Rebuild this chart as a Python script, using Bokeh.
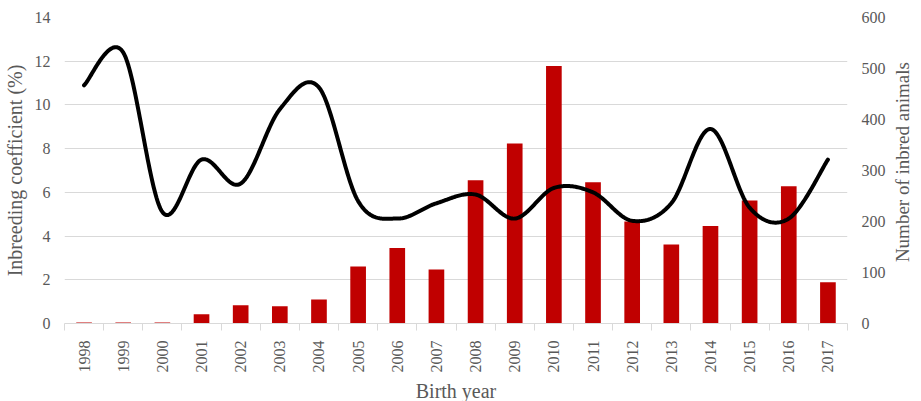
import math
from bokeh.plotting import figure
from bokeh.layouts import row
from bokeh.models import Range1d, LinearAxis, FixedTicker, ColumnDataSource
from bokeh.core.properties import value
from bokeh.embed import file_html
from bokeh.resources import INLINE

years = [str(y) for y in range(1998, 2018)]
inbred_animals = [2, 2, 2, 18, 36, 34, 47, 112, 148, 106, 281, 353, 505, 277, 200, 155, 191, 241, 269, 81]
inbreeding_coef = [10.9, 12.4, 5.1, 7.5, 6.4, 9.8, 10.8, 5.6, 4.8, 5.5, 5.9, 4.8, 6.2, 6.0, 4.7, 5.5, 8.9, 5.3, 4.8, 7.5]
left_ticks = [0, 2, 4, 6, 8, 10, 12, 14]
right_ticks = [0, 100, 200, 300, 400, 500, 600]

FONT = "Liberation Serif"
GREY = "#595959"
GRID = "#d9d9d9"

TOP, FRAME_H, BOTTOM = 17, 306, 68
TOTAL_H = TOP + FRAME_H + BOTTOM

xs = list(range(len(years)))


def smooth(xv, yv, n=40):
    """Catmull-Rom style smoothing (as in spreadsheet 'smoothed line')."""
    ox, oy = [], []
    m = len(xv)
    for i in range(m - 1):
        i0 = max(i - 1, 0)
        i3 = min(i + 2, m - 1)
        p0x, p1x, p2x, p3x = xv[i0], xv[i], xv[i + 1], xv[i3]
        p0y, p1y, p2y, p3y = yv[i0], yv[i], yv[i + 1], yv[i3]
        c1x = p1x + (p2x - p0x) / 6.0
        c1y = p1y + (p2y - p0y) / 6.0
        c2x = p2x - (p3x - p1x) / 6.0
        c2y = p2y - (p3y - p1y) / 6.0
        for k in range(n + (1 if i == m - 2 else 0)):
            t = k / n
            a = (1 - t) ** 3
            b = 3 * (1 - t) ** 2 * t
            c = 3 * (1 - t) * t ** 2
            d = t ** 3
            ox.append(a * p1x + b * c1x + c * c2x + d * p2x)
            oy.append(a * p1y + b * c1y + c * c2y + d * p2y)
    return ox, oy


p = figure(
    frame_width=783, frame_height=FRAME_H,
    x_range=Range1d(-0.5, len(years) - 0.5),
    y_range=Range1d(0, 14),
    output_backend="svg", toolbar_location=None,
    min_border_left=57, min_border_right=45, min_border_top=TOP, min_border_bottom=BOTTOM,
)
p.outline_line_color = None
p.extra_y_ranges = {"n": Range1d(0, 600)}

bar_src = ColumnDataSource(dict(x=xs, top=inbred_animals))
p.vbar(x="x", top="top", width=0.4, bottom=0, source=bar_src,
       fill_color="#C00000", line_color=None, y_range_name="n")

lx, ly = smooth(xs, inbreeding_coef)
p.line(lx, ly, line_color="black", line_width=4, line_join="round", line_cap="round")

# x axis
xt = FixedTicker(ticks=xs, minor_ticks=[i - 0.5 for i in range(len(years) + 1)])
xa = p.xaxis[0]
xa.ticker = xt
xa.major_label_overrides = {i: y for i, y in zip(xs, years)}
xa.major_label_orientation = math.pi / 2
xa.major_tick_out = 0
xa.major_tick_in = 0
xa.minor_tick_out = 7
xa.minor_tick_in = 0
xa.minor_tick_line_color = GRID
xa.axis_line_color = GRID
xa.major_label_standoff = 10
xa.major_label_text_font = FONT
xa.major_label_text_font_size = "16px"
xa.major_label_text_color = GREY
xa.axis_label = "Birth year"
xa.axis_label_text_font = FONT
xa.axis_label_text_font_size = "20px"
xa.axis_label_text_font_style = "normal"
xa.axis_label_text_color = GREY
xa.axis_label_standoff = 4

# left axis
ya = p.yaxis[0]
ya.ticker = FixedTicker(ticks=left_ticks)
ya.axis_label = "Inbreeding coefficient (%)"
ya.axis_label_text_font = FONT
ya.axis_label_text_font_size = "20px"
ya.axis_label_text_font_style = "normal"
ya.axis_label_text_color = GREY
ya.axis_label_standoff = 6

# right axis (ticks only; its title is drawn in a narrow side panel)
ra = LinearAxis(y_range_name="n", ticker=FixedTicker(ticks=right_ticks))
p.add_layout(ra, "right")

for ax in (ya, ra):
    ax.axis_line_color = None
    ax.major_tick_line_color = None
    ax.minor_tick_line_color = None
    ax.major_tick_out = 0
    ax.major_tick_in = 0
    ax.major_label_standoff = 14
    ax.major_label_text_font = FONT
    ax.major_label_text_font_size = "16px"
    ax.major_label_text_color = GREY

p.xgrid.grid_line_color = None
p.ygrid.ticker = FixedTicker(ticks=left_ticks)
p.ygrid.grid_line_color = GRID
p.ygrid.grid_line_width = 1

# side panel holding the right-axis title, reading bottom to top
side = figure(
    width=20, height=TOTAL_H,
    x_range=Range1d(0, 1), y_range=Range1d(0, TOTAL_H),
    x_axis_type=None, y_axis_type=None,
    output_backend="svg", toolbar_location=None,
    min_border=0,
)
side.outline_line_color = None
side.grid.visible = False
side.text(x=[0.5], y=[TOTAL_H - TOP - FRAME_H / 2 - 23], text=["Number of inbred animals"],
          angle=math.pi / 2, text_align="center", text_baseline="middle",
          text_font=value(FONT), text_font_size="19px", text_color=GREY)

layout = row(p, side, spacing=0)

open("out.html", "w").write(file_html(layout, INLINE))
